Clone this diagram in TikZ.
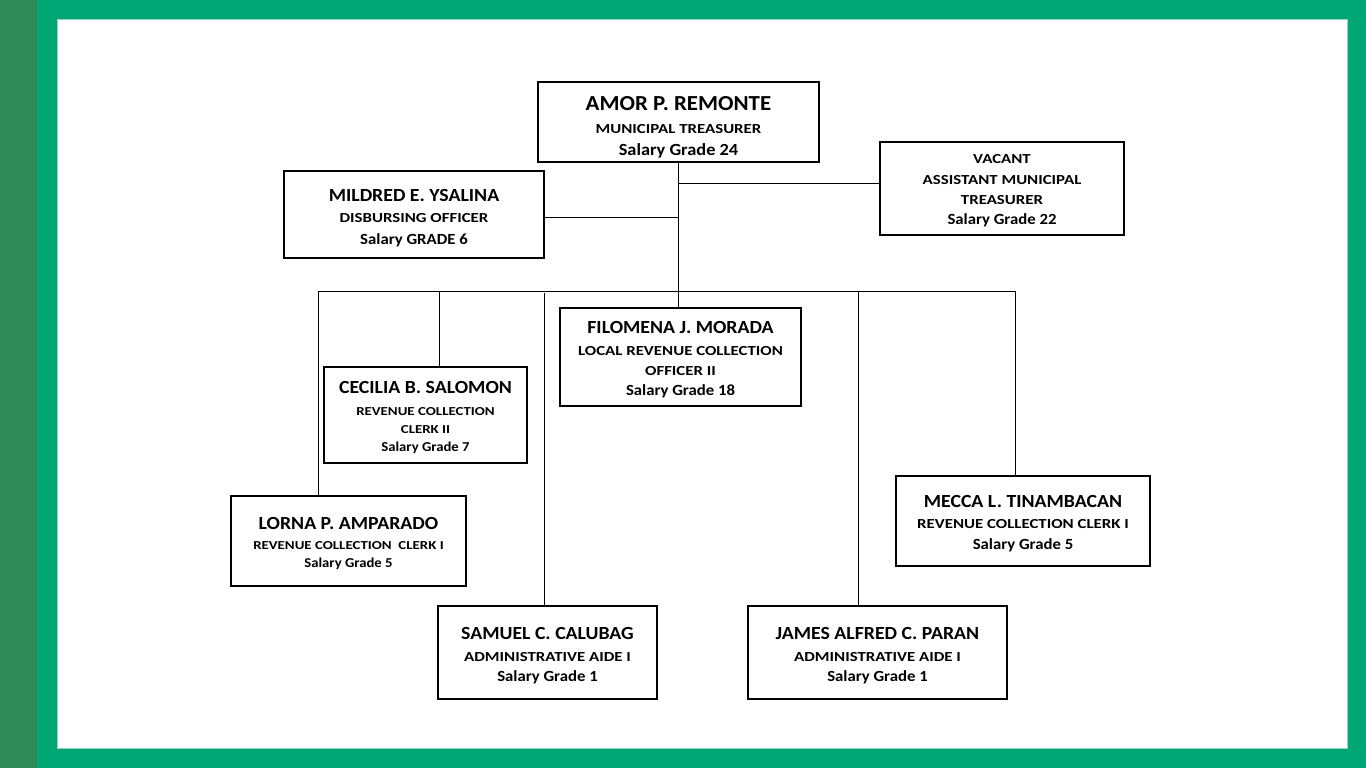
\documentclass[tikz,border=0pt]{standalone}
\usepackage{fontspec}
\setmainfont{Carlito}
\newfontfamily\namef{Carlito}[FakeStretch=1.07]
\newfontfamily\subf{Carlito}[FakeStretch=1.22]
\newfontfamily\salf{Carlito}[FakeStretch=1.08]
\definecolor{lgreen}{HTML}{00A673}
\definecolor{dgreen}{HTML}{2E8B59}
\definecolor{edgegreen}{HTML}{8ED9BE}
\newcommand\NM[2][18.5]{{\namef\bfseries\fontsize{#1}{#1}\selectfont #2}}
\newcommand\SB[2][13.8]{{\subf\bfseries\fontsize{#1}{#1}\selectfont #2}}
\newcommand\SG[2][15.5]{{\salf\bfseries\fontsize{#1}{#1}\selectfont #2}}
\tikzset{
  box/.style={draw=black, line width=1.7pt, fill=white, inner sep=0pt},
  txt/.style={align=center, inner sep=0pt, font=\fontsize{13}{20}\selectfont},
  conn/.style={draw=black, line width=0.9pt},
}
\begin{document}
\begin{tikzpicture}[x=1pt,y=-1pt]
\useasboundingbox (0,0) rectangle (1366,768);
% background frame
\fill[lgreen] (0,0) rectangle (1366,768);
\fill[dgreen] (0,0) rectangle (37,768);
\draw[edgegreen, line width=0.8pt, fill=white] (57,19) rectangle (1347,748);

% boxes
\node[box, minimum width=281, minimum height=80] (amor) at (678.5,122) {};
\node[box, minimum width=244, minimum height=93] (vacant) at (1002,188.5) {};
\node[box, minimum width=260, minimum height=87] (mildred) at (414,214.5) {};
\node[box, minimum width=241, minimum height=98] (filomena) at (680.5,357) {};
\node[box, minimum width=203, minimum height=96] (cecilia) at (425.5,415) {};
\node[box, minimum width=235, minimum height=90] (lorna) at (348.5,541) {};
\node[box, minimum width=254, minimum height=90] (mecca) at (1023,521) {};
\node[box, minimum width=219, minimum height=93] (samuel) at (547.5,652.5) {};
\node[box, minimum width=259, minimum height=93] (james) at (877.5,652.5) {};

% texts
\node[txt] (amor-t) at (678.5,127.5)
  {\NM[21.4]{AMOR P. REMONTE}\\[3pt]
   \SB{MUNICIPAL TREASURER}\\[2pt]
   \SG[17]{Salary Grade 24}};
\node[txt] (vacant-t) at (1002,190.5)
  {\SB{VACANT}\\[1pt]\SB{ASSISTANT MUNICIPAL}\\\SB{TREASURER}\\\SG{Salary Grade 22}};
\node[txt] (mildred-t) at (414,218.5)
  {\NM{MILDRED E. YSALINA}\\[1pt]
   \SB{DISBURSING OFFICER}\\[2pt]
   \SG{Salary GRADE 6}};
\node[txt] (filomena-t) at (680.5,359.5)
  {\NM{FILOMENA J. MORADA}\\[2pt]
   \SB{LOCAL REVENUE COLLECTION}\\
   \SB{OFFICER II}\\
   \SG{Salary Grade 18}};
\node[txt] (cecilia-t) at (425.5,417.5)
  {\NM{CECILIA B. SALOMON}\\[2pt]
   \SB[12.2]{REVENUE COLLECTION}\\[-2pt]
   \SB[12.2]{CLERK II}\\[-2pt]
   \SG[13.6]{Salary Grade 7}};
\node[txt] (lorna-t) at (348.5,543.5)
  {\NM{LORNA P. AMPARADO}\\[0pt]
   \SB[12.2]{REVENUE COLLECTION\ \ CLERK I}\\[-2pt]
   \SG[13.6]{Salary Grade 5}};
\node[txt] (mecca-t) at (1023,524)
  {\NM{MECCA L. TINAMBACAN}\\[1pt]
   \SB{REVENUE COLLECTION CLERK I}\\[1pt]
   \SG{Salary Grade 5}};
\node[txt] (samuel-t) at (547.5,656)
  {\NM{SAMUEL C. CALUBAG}\\[2pt]
   \SB{ADMINISTRATIVE AIDE I}\\
   \SG{Salary Grade 1}};
\node[txt] (james-t) at (877.5,656)
  {\NM{JAMES ALFRED C. PARAN}\\[2pt]
   \SB{ADMINISTRATIVE AIDE I}\\
   \SG{Salary Grade 1}};

% connector junctions
\coordinate (top) at (678,162);
\coordinate (jv) at (678,183);
\coordinate (jm) at (678,217);
\coordinate (bl) at (318,291);
\coordinate (br) at (1015,291);
\coordinate (bc) at (439,291);
\coordinate (bs) at (544,293);
\coordinate (bj) at (858,291);

\draw[conn] (top) -- (top |- filomena.north);
\draw[conn] (jv) -- (jv -| vacant.west);
\draw[conn] (jm) -- (jm -| mildred.east);
\draw[conn] (bl) -- (br);
\draw[conn] (bl) -- (bl |- lorna.north);
\draw[conn] (bc) -- (bc |- cecilia.north);
\draw[conn] (bs) -- (bs |- samuel.north);
\draw[conn] (bj) -- (bj |- james.north);
\draw[conn] (br) -- (br |- mecca.north);
\end{tikzpicture}
\end{document}
